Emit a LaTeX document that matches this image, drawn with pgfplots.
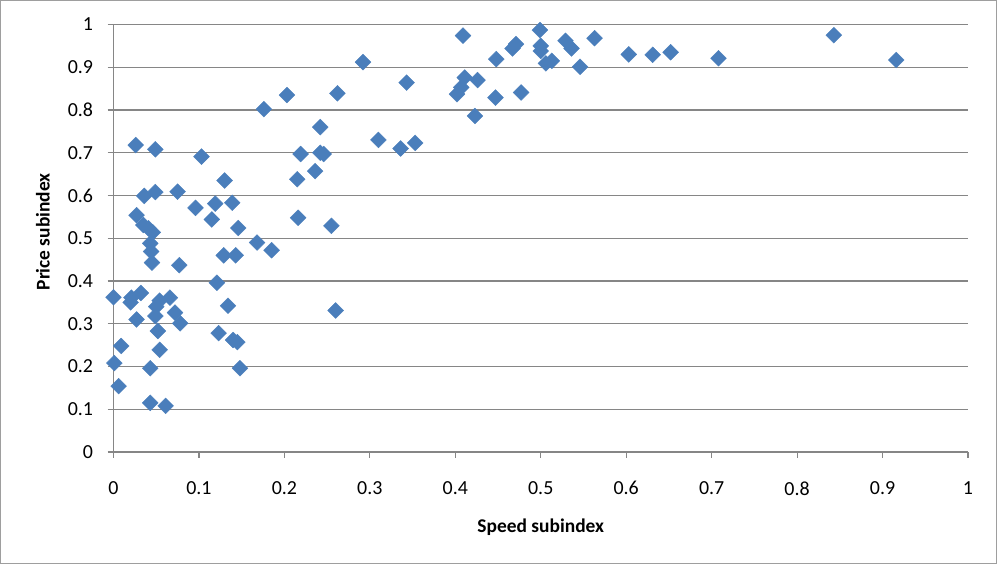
\documentclass[border=0pt]{standalone}
\usepackage{pgfplots}
\pgfplotsset{compat=1.18}
\usepackage{fontspec}
\setmainfont{Carlito}
\definecolor{pt}{HTML}{4A7EBB}
\definecolor{gl}{RGB}{134,134,134}
\begin{document}
\begin{tikzpicture}
\draw[gl!80, line width=1bp] (0.5bp,0.5bp) rectangle (996.5bp,563.5bp);
\begin{axis}[
  at={(113.5bp,112bp)}, anchor=origin,
  scale only axis, width=854.5bp, height=427.5bp,
  xmin=0, xmax=1, ymin=0, ymax=1,
  xtick={0,0.1,...,1.01}, ytick={0,0.1,...,1.01},
  axis x line*=bottom, axis y line*=left,
  axis line style={gl, line width=1.2bp, -},
  ymajorgrids, major grid style={gl, line width=1.2bp},
  tick align=outside, major tick length=6bp,
  tick style={gl, line width=1.2bp},
  /pgf/number format/assume math mode=true,
  /pgf/number format/fixed, /pgf/number format/precision=1,
  tick label style={font=\fontsize{20}{24}\selectfont, text=black},
  xticklabel style={yshift=-20bp},
  yticklabel style={xshift=-11bp},
  clip=false,
  xlabel={\textbf{Speed subindex}}, ylabel={\textbf{Price subindex}},
  label style={font=\fontsize{19.5}{23}\selectfont},
  xlabel style={at={(axis description cs:0.5,-0.1754)}, anchor=center},
  ylabel style={at={(axis description cs:-0.0825,0.515)}, anchor=center},
]
\addplot[only marks, mark=square*, mark size=5.6bp, mark options={rotate=45, fill=pt, draw=pt}] coordinates {
(0.000,0.362) (0.001,0.208) (0.006,0.154) (0.009,0.248) (0.021,0.361)
(0.020,0.350) (0.027,0.310) (0.032,0.372) (0.026,0.718) (0.027,0.554)
(0.036,0.599) (0.035,0.531) (0.041,0.523) (0.046,0.514) (0.043,0.488)
(0.044,0.469) (0.045,0.443) (0.043,0.196) (0.043,0.115) (0.049,0.708)
(0.049,0.608) (0.049,0.318) (0.050,0.340) (0.052,0.283) (0.054,0.239)
(0.054,0.354) (0.061,0.108) (0.066,0.361) (0.072,0.326) (0.075,0.609)
(0.078,0.301) (0.077,0.437) (0.096,0.571) (0.103,0.691) (0.115,0.544)
(0.119,0.581) (0.121,0.396) (0.123,0.278) (0.129,0.460) (0.130,0.635)
(0.134,0.342) (0.139,0.583) (0.140,0.262) (0.143,0.460) (0.145,0.257)
(0.146,0.524) (0.148,0.196) (0.168,0.490) (0.176,0.802) (0.185,0.472)
(0.203,0.835) (0.215,0.638) (0.216,0.548) (0.219,0.697) (0.236,0.657)
(0.242,0.760) (0.242,0.700) (0.246,0.697) (0.255,0.529) (0.260,0.331)
(0.262,0.839) (0.292,0.912) (0.310,0.730) (0.336,0.710) (0.343,0.864)
(0.353,0.723) (0.402,0.837) (0.407,0.853) (0.409,0.974) (0.411,0.876)
(0.423,0.786) (0.426,0.870) (0.447,0.829) (0.448,0.919) (0.467,0.944)
(0.471,0.954) (0.477,0.841) (0.499,0.987) (0.500,0.950) (0.500,0.938)
(0.506,0.909) (0.513,0.915) (0.529,0.962) (0.536,0.944) (0.546,0.901)
(0.563,0.968) (0.603,0.930) (0.631,0.929) (0.652,0.935) (0.708,0.921)
(0.843,0.975) (0.916,0.917)
};
\end{axis}
\end{tikzpicture}
\end{document}
